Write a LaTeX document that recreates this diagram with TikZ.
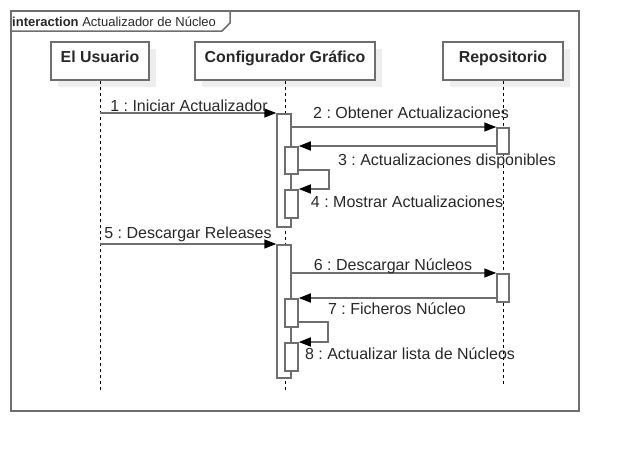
\documentclass[tikz,border=0pt]{standalone}
\usepackage{fontspec}
\setmainfont{Liberation Sans}
\usepackage{tikz}
\usetikzlibrary{arrows.meta, shadows}
\frenchspacing
\definecolor{linegray}{RGB}{110,110,110}
\definecolor{textgray}{RGB}{40,40,40}
\tikzstyle{obj} = [draw=linegray, line width=1.5pt, fill=white, minimum height=38pt, text height=12pt, text depth=10pt, text=textgray, font=\bfseries\fontsize{15.9}{18}\selectfont, general shadow={fill=black!7, shadow xshift=7pt, shadow yshift=-7pt}]
\tikzstyle{lifeline} = [black, line width=1pt, dash pattern=on 3pt off 3pt]
\tikzstyle{bar} = [draw=linegray, line width=1.5pt, fill=white, anchor=north, inner sep=0pt]
\tikzstyle{msg} = [linegray, line width=1.5pt, -{Triangle[length=12pt,width=9pt,black]}]
\tikzstyle{lbl} = [anchor=base, inner sep=0pt, text=textgray, font=\fontsize{16}{18}\selectfont]

\begin{document}
\begin{tikzpicture}[x=1pt, y=-1pt]
\def\cw{14pt}
\def\sw{13pt}
\def\rw{12pt}
\useasboundingbox (0,0) rectangle (618,450);
% frame
\node[draw=linegray, line width=1.5pt, minimum width=568pt, minimum height=400pt, anchor=north west, inner sep=0pt] (frame) at (10,10) {};
\node[anchor=base west, inner sep=0pt, text=textgray, font=\fontsize{13}{15}\selectfont] (title) at (12,26) {\textbf{interaction} Actualizador de Núcleo};
\draw[linegray, line width=1.5pt] (10,31) -- (222,31) -- (230,23) -- (230,10);
% objects
\node[obj, minimum width=98pt] (usuario) at (100,61) {El Usuario};
\node[obj, minimum width=180pt] (config) at (285,61) {Configurador Gráfico};
\node[obj, minimum width=120pt] (repo) at (503,61) {Repositorio};
\coordinate (uend) at (100,390);
\coordinate (cend) at (285,390);
\coordinate (rend) at (503,385);
\draw[lifeline] (usuario.south) -- (uend);
\draw[lifeline] (config.south) -- (cend);
\draw[lifeline] (repo.south) -- (rend);
% activations
\node[bar, minimum width=\cw, minimum height=113pt] (cb1) at (284,113) {};
\node[bar, minimum width=\rw, minimum height=26pt] (rb1) at (503,127) {};
\node[bar, minimum width=\sw, minimum height=27pt] (sb1) at (291.5,146) {};
\node[bar, minimum width=\sw, minimum height=28pt] (sb2) at (291.5,189) {};
\node[bar, minimum width=\cw, minimum height=133pt] (cb2) at (284,244) {};
\node[bar, minimum width=\rw, minimum height=28pt] (rb2) at (503,273) {};
\node[bar, minimum width=\sw, minimum height=28pt] (sb3) at (291.5,298) {};
\node[bar, minimum width=\sw, minimum height=28pt] (sb4) at (291.5,342) {};
% messages
\draw[msg] (usuario.south |- cb1.north) -- (cb1.north west);
\node[lbl] (l1) at (189,111) {1 : Iniciar Actualizador};
\draw[msg] (cb1.east |- rb1.north) -- (rb1.north west);
\node[lbl] (l2) at (411,118) {2 : Obtener Actualizaciones};
\draw[msg] (rb1.west |- sb1.north) -- (sb1.north east);
\node[lbl] (l3) at (447,165) {3 : Actualizaciones disponibles};
\coordinate (s4) at (329,170);
\draw[msg] (sb1.east |- s4) -- (s4) |- (sb2.north east);
\node[lbl] (l4) at (407,207) {4 : Mostrar Actualizaciones};
\draw[msg] (usuario.south |- cb2.north) -- (cb2.north west);
\node[lbl] (l5) at (188,238) {5 : Descargar Releases};
\draw[msg] (cb2.east |- rb2.north) -- (rb2.north west);
\node[lbl] (l6) at (393,270) {6 : Descargar Núcleos};
\draw[msg] (rb2.west |- sb3.north) -- (sb3.north east);
\node[lbl] (l7) at (397,314) {7 : Ficheros Núcleo};
\coordinate (s8) at (328,322);
\draw[msg] (sb3.east |- s8) -- (s8) |- (sb4.north east);
\node[lbl] (l8) at (410,359) {8 : Actualizar lista de Núcleos};
\end{tikzpicture}
\end{document}
